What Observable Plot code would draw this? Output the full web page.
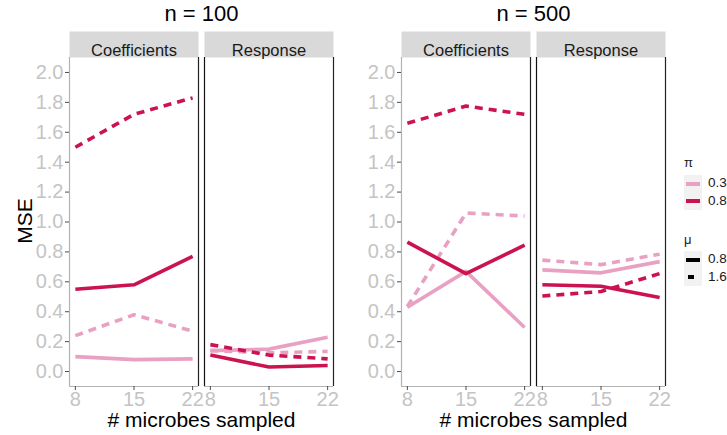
<!DOCTYPE html>
<html>
<head>
<meta charset="utf-8">
<script src="https://cdn.jsdelivr.net/npm/d3@7"></script>
<script src="https://cdn.jsdelivr.net/npm/@observablehq/plot@0.6"></script>
<style>
  body { margin: 0; background: #fff; font-family: "Liberation Sans", Arial, sans-serif; }
  #root { position: relative; width: 727px; height: 435px; overflow: hidden; background: #fff; }
  .panel { position: absolute; top: 0; width: 360px; height: 435px; }
  .panel svg { position: absolute; left: 0; top: 0; }
  .ptitle { position: absolute; top: 0; height: 28px; line-height: 28px; text-align: center; font-size: 22px; color: #000; }
  .xtitle { position: absolute; top: 406px; height: 28px; line-height: 28px; text-align: center; font-size: 21px; color: #000; }
  .ytitle { position: absolute; left: 25px; top: 221px; font-size: 21px; color: #000; transform: translate(-50%, -50%) rotate(-90deg); white-space: nowrap; }
  .lg { position: absolute; font-size: 13.5px; color: #1a1a1a; white-space: nowrap; }
  .lgt { position: absolute; font-size: 13px; color: #1a1a1a; }
  .keybox { position: absolute; background: #f2f2f2; }
  .key { position: absolute; height: 4px; }
</style>
</head>
<body>
<div id="root"></div>
<script>
// ---- data ----
const xSampled = [8, 15, 22];
const panels = ["n = 100", "n = 500"];
const facetTypes = ["Coefficients", "Response"];
const piLevels = ["0.3", "0.8"];
const muLevels = ["0.8", "1.6"];
const yTicks = [0, 0.2, 0.4, 0.6, 0.8, 1.0, 1.2, 1.4, 1.6, 1.8, 2.0];
const piColors = ["#E9A1C3", "#CB1350"];
const xTitle = "# microbes sampled";
const yTitle = "MSE";

// n = 100
const n100CoefPi03Mu08 = [0.10, 0.08, 0.085];
const n100CoefPi03Mu16 = [0.24, 0.38, 0.27];
const n100CoefPi08Mu08 = [0.55, 0.58, 0.77];
const n100CoefPi08Mu16 = [1.50, 1.72, 1.83];
const n100RespPi03Mu08 = [0.14, 0.15, 0.23];
const n100RespPi03Mu16 = [0.14, 0.125, 0.135];
const n100RespPi08Mu08 = [0.11, 0.03, 0.04];
const n100RespPi08Mu16 = [0.18, 0.11, 0.085];
// n = 500
const n500CoefPi03Mu08 = [0.43, 0.67, 0.295];
const n500CoefPi03Mu16 = [0.435, 1.06, 1.04];
const n500CoefPi08Mu08 = [0.865, 0.655, 0.845];
const n500CoefPi08Mu16 = [1.66, 1.775, 1.72];
const n500RespPi03Mu08 = [0.68, 0.66, 0.735];
const n500RespPi03Mu16 = [0.745, 0.715, 0.785];
const n500RespPi08Mu08 = [0.58, 0.57, 0.495];
const n500RespPi08Mu16 = [0.505, 0.535, 0.655];

const series = [
  {n: panels[0], type: facetTypes[0], pi: "0.3", mu: "0.8", values: n100CoefPi03Mu08},
  {n: panels[0], type: facetTypes[0], pi: "0.3", mu: "1.6", values: n100CoefPi03Mu16},
  {n: panels[0], type: facetTypes[0], pi: "0.8", mu: "0.8", values: n100CoefPi08Mu08},
  {n: panels[0], type: facetTypes[0], pi: "0.8", mu: "1.6", values: n100CoefPi08Mu16},
  {n: panels[0], type: facetTypes[1], pi: "0.3", mu: "0.8", values: n100RespPi03Mu08},
  {n: panels[0], type: facetTypes[1], pi: "0.3", mu: "1.6", values: n100RespPi03Mu16},
  {n: panels[0], type: facetTypes[1], pi: "0.8", mu: "0.8", values: n100RespPi08Mu08},
  {n: panels[0], type: facetTypes[1], pi: "0.8", mu: "1.6", values: n100RespPi08Mu16},
  {n: panels[1], type: facetTypes[0], pi: "0.3", mu: "0.8", values: n500CoefPi03Mu08},
  {n: panels[1], type: facetTypes[0], pi: "0.3", mu: "1.6", values: n500CoefPi03Mu16},
  {n: panels[1], type: facetTypes[0], pi: "0.8", mu: "0.8", values: n500CoefPi08Mu08},
  {n: panels[1], type: facetTypes[0], pi: "0.8", mu: "1.6", values: n500CoefPi08Mu16},
  {n: panels[1], type: facetTypes[1], pi: "0.3", mu: "0.8", values: n500RespPi03Mu08},
  {n: panels[1], type: facetTypes[1], pi: "0.3", mu: "1.6", values: n500RespPi03Mu16},
  {n: panels[1], type: facetTypes[1], pi: "0.8", mu: "0.8", values: n500RespPi08Mu08},
  {n: panels[1], type: facetTypes[1], pi: "0.8", mu: "1.6", values: n500RespPi08Mu16}
];

// ---- layout ----
const W = 360, H = 435;
const mL = 69, mR = 26, mT = 57, mB = 49;
const stripH = 26;
const frameH = H - mT - mB;
const xDomain = [8 - 0.05 * 14, 22 + 0.05 * 14];
const yDomain = [-0.1, 2.1];
const dash = "8,6";
const lw = 3.6;
const tickFont = 20;
const fontFamily = '"Liberation Sans", Arial, sans-serif';

function panelPlot(panel) {
  const rows = series.filter(s => s.n === panel).flatMap(s =>
    s.values.map((v, i) => ({type: s.type, pi: s.pi, mu: s.mu, x: xSampled[i], y: v})));
  const lines = [];
  for (const pi of piLevels) for (const mu of muLevels) {
    lines.push(Plot.line(rows.filter(r => r.pi === pi && r.mu === mu), {
      fx: "type", x: "x", y: "y", stroke: "pi",
      strokeWidth: lw, strokeLinecap: "butt", strokeLinejoin: "round",
      strokeDasharray: mu === "1.6" ? dash : null
    }));
  }
  return Plot.plot({
    width: W, height: H,
    marginLeft: mL, marginRight: mR, marginTop: mT, marginBottom: mB,
    style: {background: "transparent", fontFamily, overflow: "visible"},
    fx: {domain: facetTypes, padding: 12 / 271, axis: null},
    x: {domain: xDomain},
    y: {domain: yDomain},
    color: {domain: piLevels, range: piColors},
    marks: [
      Plot.frame({fill: "#d9d9d9", stroke: "none", insetTop: -stripH, insetBottom: frameH}),
      Plot.text(facetTypes, {fx: d => d, text: d => d, frameAnchor: "top", dy: -13, fontSize: 16.5, fill: "#1a1a1a"}),
      Plot.ruleY([yDomain[0]], {stroke: "#b3b3b3", strokeWidth: 1.2}),
      Plot.ruleX([facetTypes[0]], {fx: d => d, x: () => xDomain[0], stroke: "#b3b3b3", strokeWidth: 1.2}),
      Plot.ruleX(facetTypes.slice(1), {fx: d => d, x: () => xDomain[0], stroke: "#111", strokeWidth: 1.2}),
      Plot.ruleX([xDomain[1]], {stroke: "#222", strokeWidth: 1.2}),
      ...lines,
      Plot.axisY({ticks: yTicks, tickFormat: d3.format(".1f"), tickSize: 4, tickPadding: 2,
        stroke: "#4d4d4d", fill: "#c4c4c4", fontSize: tickFont, label: null}),
      Plot.axisX({ticks: xSampled, tickFormat: d3.format("d"), tickSize: 4, tickPadding: 1,
        stroke: "#4d4d4d", fill: "#c4c4c4", fontSize: tickFont, label: null})
    ]
  });
}

const root = document.getElementById("root");
const offsets = [0, 332];
panels.forEach((p, i) => {
  const div = document.createElement("div");
  div.className = "panel";
  div.style.left = offsets[i] + "px";
  div.appendChild(panelPlot(p));
  const t = document.createElement("div");
  t.className = "ptitle";
  t.style.left = mL + "px";
  t.style.width = (W - mL - mR) + "px";
  t.textContent = p;
  div.appendChild(t);
  const xt = document.createElement("div");
  xt.className = "xtitle";
  xt.style.left = mL + "px";
  xt.style.width = (W - mL - mR) + "px";
  xt.textContent = xTitle;
  div.appendChild(xt);
  root.appendChild(div);
});

const yt = document.createElement("div");
yt.className = "ytitle";
yt.textContent = yTitle;
root.appendChild(yt);

// ---- legend ----
function addEl(cls, styles, text) {
  const e = document.createElement("div");
  e.className = cls;
  Object.assign(e.style, styles);
  if (text != null) e.textContent = text;
  root.appendChild(e);
  return e;
}
function legendBlock(title, titleY, labels, keyTop, drawKey) {
  addEl("lgt", {left: "684px", top: (titleY - 8) + "px"}, title);
  addEl("keybox", {left: "684px", top: keyTop + "px", width: "18px", height: (labels.length * 17.5) + "px"});
  labels.forEach((lab, i) => {
    const cy = keyTop + 8.75 + i * 17.5;
    drawKey(i, cy);
    addEl("lg", {left: "708px", top: (cy - 8.5) + "px"}, lab);
  });
}
legendBlock("π", 163, piLevels, 175, (i, cy) => {
  addEl("key", {left: "686px", top: (cy - 2) + "px", width: "14px", background: piColors[i]});
});
legendBlock("μ", 240, muLevels, 251, (i, cy) => {
  if (i === 0) addEl("key", {left: "686px", top: (cy - 2) + "px", width: "14px", background: "#000"});
  else addEl("key", {left: "688px", top: (cy - 2) + "px", width: "6px", background: "#000"});
});
</script>
</body>
</html>
